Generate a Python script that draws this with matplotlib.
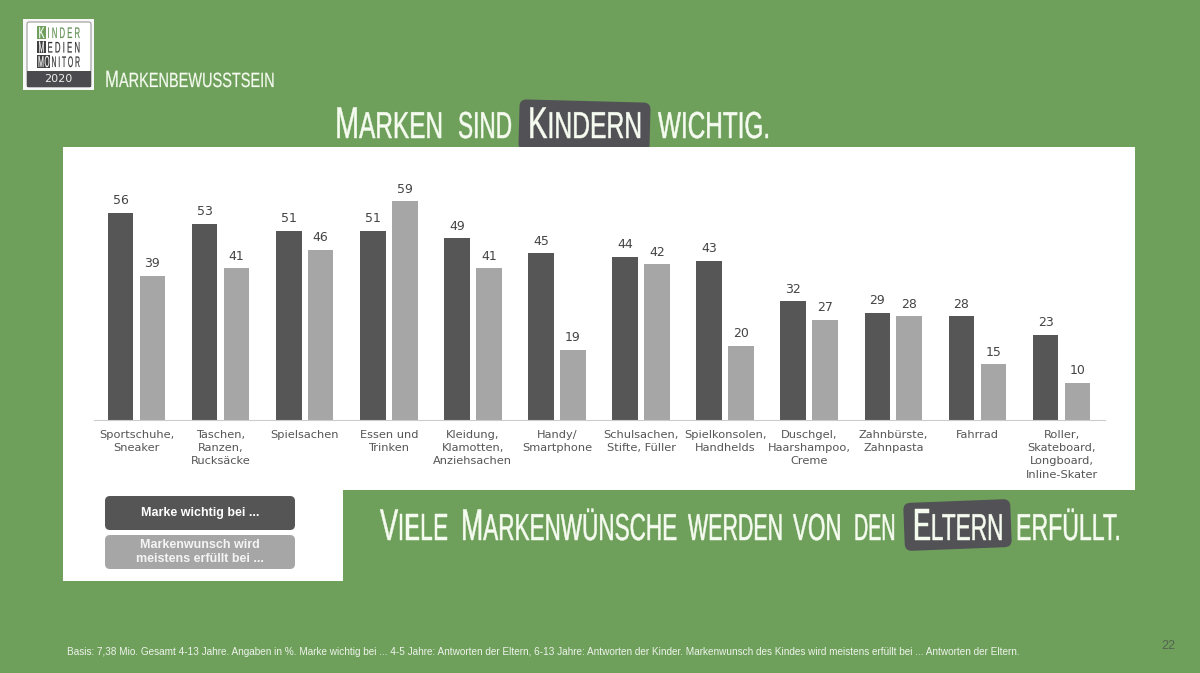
import numpy as np
import matplotlib
matplotlib.use('Agg')
import matplotlib.pyplot as plt
from matplotlib.patches import Rectangle, FancyBboxPatch
from matplotlib.patheffects import AbstractPathEffect
from matplotlib.text import Text
from matplotlib.transforms import Affine2D

# Data
categories = ['Sportschuhe,\nSneaker', 'Taschen,\nRanzen,\nRucksäcke', 'Spielsachen', 'Essen und\nTrinken',
              'Kleidung,\nKlamotten,\nAnziehsachen', 'Handy/\nSmartphone', 'Schulsachen,\nStifte, Füller',
              'Spielkonsolen,\nHandhelds', 'Duschgel,\nHaarshampoo,\nCreme', 'Zahnbürste,\nZahnpasta',
              'Fahrrad', 'Roller,\nSkateboard,\nLongboard,\nInline-Skater']
wichtig = [56, 53, 51, 51, 49, 45, 44, 43, 32, 29, 28, 23]
erfuellt = [39, 41, 46, 59, 41, 19, 42, 20, 27, 28, 15, 10]
legend_labels = ['Marke wichtig bei ...', 'Markenwunsch wird\nmeistens erfüllt bei ...']
footnote = ('Basis: 7,38 Mio. Gesamt 4-13 Jahre. Angaben in %. Marke wichtig bei ... 4-5 Jahre: Antworten der Eltern, '
            '6-13 Jahre: Antworten der Kinder. Markenwunsch des Kindes wird meistens erfüllt bei ... Antworten der Eltern.')

GREEN = '#6ea05c'
DARK = '#565656'
LIGHT = '#a6a6a6'
BOX = '#525256'
CREAM = '#f6fbf0'
HEAD_FONT = 'Liberation Sans'

W, H = 1200, 673
fig = plt.figure(figsize=(12, 6.73), dpi=100, facecolor=GREEN)

# Background layer in pixel coordinates
bg = fig.add_axes([0, 0, 1, 1], zorder=0)
bg.set_xlim(0, W)
bg.set_ylim(H, 0)
bg.axis('off')


# No condensed font installed: set the text small and stretch it upwards from the baseline
class Tall(AbstractPathEffect):
    def __init__(self, base, sy, stroke=0):
        super().__init__()
        self.base = base
        self.sy = sy
        self.stroke = stroke

    def draw_path(self, renderer, gc, tpath, affine, rgbFace=None):
        a = affine + Affine2D().translate(0, -self.base).scale(1, self.sy).translate(0, self.base)
        gc0 = renderer.new_gc()
        gc0.copy_properties(gc)
        gc0.set_foreground(rgbFace)
        gc0.set_linewidth(self.stroke)
        renderer.draw_path(gc0, tpath, a, rgbFace)
        gc0.restore()


def word(x0, x1, base, pieces, color=CREAM, z=5, stroke=0.35):
    # fit one word of (text, size) pieces into the pixel span x0..x1
    rend = fig.canvas.get_renderer()
    texts = []
    total = 0
    for s, size in pieces:
        t = Text(x0, base, s, fontsize=size, color=color, family=HEAD_FONT,
                 ha='left', va='baseline', zorder=z)
        bg.add_artist(t)
        w = t.get_window_extent(rend).width
        texts.append((t, w, size))
        total += w
    sx = (x1 - x0) / total
    cur = x0
    for t, w, size in texts:
        t.set_x(cur)
        t.set_fontsize(size * sx)
        t.set_path_effects([Tall(H - base, 1 / sx, stroke)])
        cur += w * sx


def rect(x0, y0, x1, y1, color, z=1):
    bg.add_patch(Rectangle((x0, y0), x1 - x0, y1 - y0, fc=color, ec='none', zorder=z))


def rbox(x0, y0, x1, y1, color, r=6, angle=0, z=2, ec='none', lw=0):
    p = FancyBboxPatch((x0 + r, y0 + r), x1 - x0 - 2 * r, y1 - y0 - 2 * r,
                       boxstyle='round,pad=%g,rounding_size=%g' % (r, r), fc=color, ec=ec, lw=lw, zorder=z)
    if angle:
        cx, cy = (x0 + x1) / 2, (y0 + y1) / 2
        p.set_transform(Affine2D().rotate_deg_around(cx, cy, angle) + bg.transData)
    bg.add_patch(p)


# White panels
rect(63, 147, 1135, 490, 'white')
rect(63, 490, 343, 581, 'white')

# Logo
rect(23, 19, 94, 90, '#f7f7f7')
rbox(27, 22, 91, 87, 'white', r=2, ec='#9a9a9a', lw=0.8)
rect(27, 71, 91, 87, '#4b4a4e', z=3)
bg.text(58.5, 79, '2020', color='#eeeeee', fontsize=8, ha='center', va='center', zorder=4)
rect(37, 26, 46, 39, GREEN, z=3)
rect(37, 41, 46, 53, '#3f3f3f', z=3)
rect(37, 55, 50, 68, '#3f3f3f', z=3)
word(38.5, 44.5, 38, [('K', 11.5)], color='white', stroke=0.1)
word(38.5, 44.5, 52.5, [('M', 11.5)], color='white', stroke=0.1)
word(38, 44, 67, [('M', 11.5)], color='white', stroke=0.1)
word(44.5, 49.5, 67, [('O', 11.5)], color='white', stroke=0.1)
word(47.5, 80, 38, [('I N D E R', 11)], color='#5f8f50', stroke=0.1)
word(47.5, 80, 52.5, [('E D I E N', 11)], color='#333333', stroke=0.1)
word(51.5, 80, 67, [('N I T O R', 11)], color='#333333', stroke=0.1)

# Headings
word(105, 274, 87, [('M', 17), ('ARKENBEWUSSTSEIN', 14.8)], stroke=0.15)

rbox(519, 101, 650, 152, BOX, r=7, angle=1.5, z=0.5)
word(335, 443, 138, [('M', 32), ('ARKEN', 27)])
word(458, 512, 138, [('SIND', 27)])
word(528, 642, 138, [('K', 32), ('INDERN', 27)])
word(658, 770, 138, [('WICHTIG.', 27)])

rbox(904, 501, 1011, 549, BOX, r=7, angle=-2.2)
word(380, 448, 540, [('V', 32), ('IELE', 27)])
word(461, 677, 540, [('M', 32), ('ARKENWÜNSCHE', 27)])
word(688, 783, 540, [('WERDEN', 27)])
word(793, 841.5, 540, [('VON', 27)])
word(854, 895.5, 540, [('DEN', 27)])
word(913, 1003.5, 540, [('E', 32), ('LTERN', 27)])
word(1016, 1121, 540, [('ERFÜLLT.', 27)])

# Legend boxes
rbox(105, 496, 295, 530, '#555555', r=5)
rbox(105, 535, 295, 569, LIGHT, r=5)
bg.text(200, 513, legend_labels[0], color='white', fontsize=9, fontweight='bold', family='Liberation Sans',
        ha='center', va='center', zorder=4)
bg.text(200, 552, legend_labels[1], color='#f4f4f4', fontsize=9, fontweight='bold', family='Liberation Sans',
        ha='center', va='center', linespacing=1.25, zorder=4)

# Footer
bg.text(67, 652, footnote, color='#eef3ea', fontsize=7.23, family='Liberation Sans', va='center', zorder=4)
bg.text(1168, 646, '22', color='#55654f', fontsize=9, family='Liberation Sans', ha='center', va='center', zorder=4)

# Chart
ax = fig.add_axes([94 / W, 1 - 420 / H, (1105 - 94) / W, 260 / H], zorder=3)
ax.patch.set_alpha(0)
x = np.arange(len(categories))
b1 = ax.bar(x - 0.19, wichtig, 0.305, color=DARK)
b2 = ax.bar(x + 0.19, erfuellt, 0.305, color=LIGHT)
ax.bar_label(b1, padding=4, fontsize=9, color='#444444')
ax.bar_label(b2, padding=4, fontsize=9, color='#444444')
ax.set_xlim(-0.505, 11.517)
ax.set_ylim(0, 260 / 3.705)
ax.set_yticks([])
ax.set_xticks(x)
ax.set_xticklabels(categories, fontsize=8.2, color='#555555', linespacing=1.41)
ax.tick_params(axis='x', length=0, pad=7)
for s in ['top', 'left', 'right']:
    ax.spines[s].set_visible(False)
ax.spines['bottom'].set_color('#cccccc')

fig.savefig('out.png', dpi=100, facecolor=GREEN)
